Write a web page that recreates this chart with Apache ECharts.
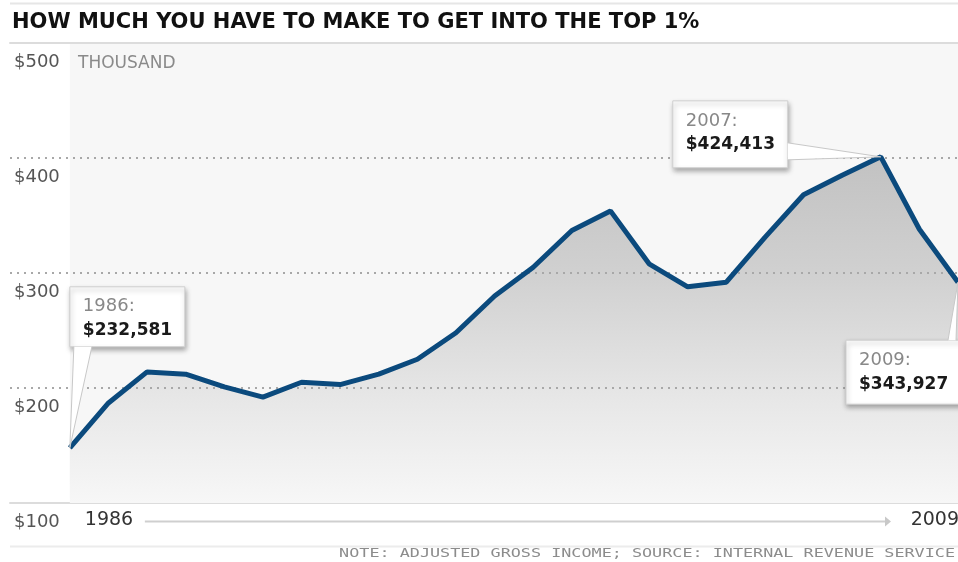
<!DOCTYPE html>
<html><head><meta charset="utf-8">
<script src="https://cdn.jsdelivr.net/npm/echarts@6/dist/echarts.min.js"></script>
<style>html,body{margin:0;padding:0;background:#fff}#c{width:958px;height:562px}</style>
</head><body><div id="c"></div>
<script>
// ---- data ----
const years = [1986,1987,1988,1989,1990,1991,1992,1993,1994,1995,1996,1997,1998,1999,2000,2001,2002,2003,2004,2005,2006,2007,2008,2009];
const values = [148,187,214,212,201,192,205,203,212,225,248,280,305,337,354,308,288,292,331,368,385,401,338,292];
const yTicks = [100,200,300,400,500];
const xEndLabels = ['1986','2009'];
const annYears = [1986,2007,2009];
const annTitles = ['1986:','2007:','2009:'];
const annValues = ['$232,581','$424,413','$343,927'];
const titleText = 'HOW MUCH YOU HAVE TO MAKE TO GET INTO THE TOP 1%';
const unitText = 'THOUSAND';
const noteText = 'NOTE: ADJUSTED GROSS INCOME; SOURCE: INTERNAL REVENUE SERVICE';

// ---- layout (styles only) ----
const calloutLayout = [
  {bx:0, by:-161, w:115, h:60, base:[[4,60],[22,60]]},
  {bx:-208, by:-56, w:115, h:67, base:[[115,42],[115,59]]},
  {bx:-112, by:58, w:125, h:64, base:[[102,0],[110,0]]}
];
const FONT = 'DejaVu Sans';
const chart = echarts.init(document.getElementById('c'), null, {renderer:'canvas'});
const pairs = years.map((y,i)=>[y, values[i]]);
const axisX = {type:'value', min:1984.45, max:2009,
  axisLine:{show:true, onZero:false, lineStyle:{color:'#dcdcdc', width:2}},
  axisTick:{show:false}, axisLabel:{show:false}, splitLine:{show:false}};
chart.setOption({
  animation:false,
  backgroundColor:'#fff',
  title:{text:titleText, left:12, top:12, padding:0,
    textStyle:{fontFamily:FONT, fontWeight:'bold', fontSize:21, color:'#111'}},
  grid:{left:10, right:0, top:43, bottom:59},
  xAxis:[Object.assign({position:'bottom'}, axisX), Object.assign({position:'top'}, axisX)],
  yAxis:{type:'value', min:yTicks[0], max:yTicks[yTicks.length-1], interval:100, z:3,
    name:unitText, nameLocation:'end', nameGap:-21,
    nameTextStyle:{align:'left', verticalAlign:'middle', padding:[0,0,0,68], fontFamily:FONT, fontSize:17, color:'#8a8a8a'},
    axisLine:{show:false}, axisTick:{show:false},
    axisLabel:{inside:true, margin:4, align:'left', verticalAlign:'top', lineHeight:38,
      formatter:v=>'$'+v, color:'#555', fontFamily:FONT, fontSize:18},
    splitLine:{show:true, lineStyle:{color:['rgba(0,0,0,0)','#a8a8a8','#a8a8a8','#a8a8a8','rgba(0,0,0,0)'], width:2, type:[2,5]}}
  },
  series:[
    {type:'line', data:pairs, symbol:'none', z:1, lineStyle:{width:0},
      areaStyle:{origin:'start', opacity:1, color:new echarts.graphic.LinearGradient(0,0,0,1,[
        {offset:0,color:'#c2c2c2'},{offset:0.35,color:'#d1d1d1'},{offset:0.7,color:'#e7e7e7'},{offset:1,color:'#f7f7f7'}])}},
    {type:'line', data:pairs, symbol:'none', z:5, lineStyle:{color:'#0b4a7d', width:5}}
  ]
});

function px(d){ return chart.convertToPixel({gridIndex:0}, d); }
const g = [];
const tl = px([years[0], yTicks[yTicks.length-1]]);
const br = px([years[years.length-1], yTicks[0]]);
// plot background
g.push({type:'rect', z:-10, shape:{x:tl[0], y:tl[1]+1, width:br[0]-tl[0]+2, height:br[1]-tl[1]-6}, style:{fill:'#f7f7f7'}});
// top rule and footer rule
g.push({type:'line', shape:{x1:10,y1:3.5,x2:958,y2:3.5}, style:{stroke:'#e6e6e6', lineWidth:2}});
g.push({type:'line', shape:{x1:10,y1:546.5,x2:958,y2:546.5}, style:{stroke:'#ececec', lineWidth:2}});
// x labels and arrow
const ly = br[1] + 17;
g.push({type:'text', x:tl[0]+15, y:ly, style:{text:xEndLabels[0], font:'19px '+FONT, fill:'#333', verticalAlign:'middle', align:'left'}});
g.push({type:'text', x:br[0]+1, y:ly, style:{text:xEndLabels[1], font:'19px '+FONT, fill:'#333', verticalAlign:'middle', align:'right'}});
g.push({type:'line', shape:{x1:tl[0]+75, y1:ly+1.5, x2:br[0]-70, y2:ly+1.5}, style:{stroke:'#cfcfcf', lineWidth:2}});
g.push({type:'polygon', shape:{points:[[br[0]-73,ly-3.5],[br[0]-67,ly+1.5],[br[0]-73,ly+6.5]]}, style:{fill:'#c8c8c8'}});
// footnote
g.push({type:'text', x:955, y:554, scaleX:1.29, style:{text:noteText, font:'13px "DejaVu Sans Mono"', fill:'#8c8c8c', align:'right', verticalAlign:'middle'}});
// callouts
annYears.forEach((yr,i)=>{
  const idx = years.indexOf(yr);
  const p = px([yr, values[idx]]);
  const L = calloutLayout[i];
  const bx = p[0]+L.bx, by = p[1]+L.by;
  const b1 = [bx+L.base[0][0], by+L.base[0][1]], b2 = [bx+L.base[1][0], by+L.base[1][1]];
  const tip = [p[0], p[1]];
  g.push({type:'rect', z:20, shape:{x:bx, y:by, width:L.w, height:L.h},
    style:{fill:'#fff', stroke:'#cfcfcf', lineWidth:1, shadowBlur:5, shadowOffsetX:1, shadowOffsetY:3, shadowColor:'rgba(0,0,0,0.35)'}});
  g.push({type:'polygon', z:21, shape:{points:[b1,b2,tip]}, style:{fill:'#fff'}});
  g.push({type:'polyline', z:21, shape:{points:[b1,tip,b2]}, style:{stroke:'#c8c8c8', lineWidth:1, fill:null}});
  g.push({type:'text', z:22, x:bx+13, y:by+20, style:{text:annTitles[i], font:'18px '+FONT, fill:'#888', verticalAlign:'middle'}});
  g.push({type:'text', z:22, x:bx+13, y:by+44, style:{text:annValues[i], font:'bold 17px '+FONT, fill:'#1a1a1a', verticalAlign:'middle'}});
});
chart.setOption({graphic:g});
</script></body></html>
